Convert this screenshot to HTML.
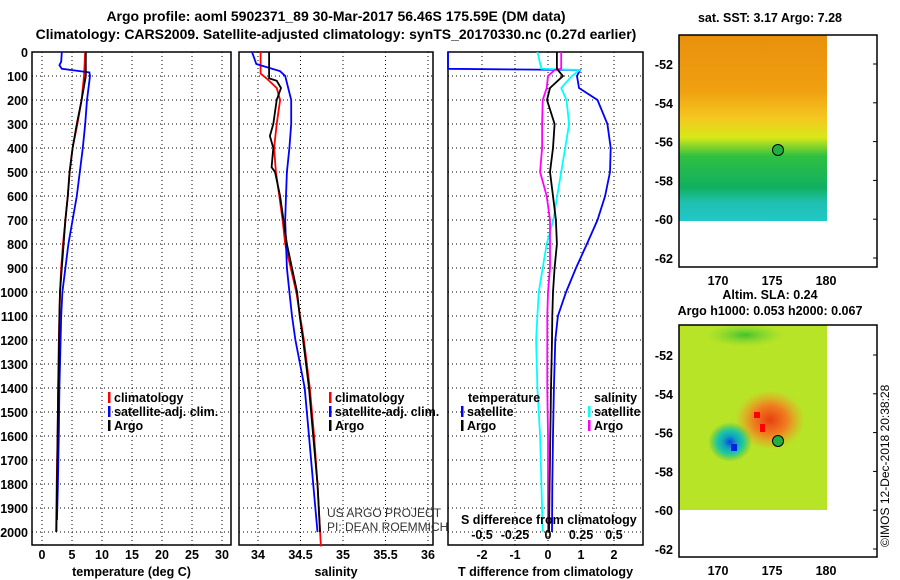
<!DOCTYPE html>
<html><head><meta charset="utf-8"><style>
body{margin:0;background:#fff;width:900px;height:580px;overflow:hidden}
svg{font-family:"Liberation Sans",sans-serif;display:block}
.b{font-weight:bold;font-size:12.5px}
.t{font-weight:bold;font-size:14px}
</style></head><body>
<svg id="chart" width="900" height="580" viewBox="0 0 900 580">
<defs>
<linearGradient id="sstg" x1="0" y1="0" x2="0" y2="1">
<stop offset="0" stop-color="#e8900c"/><stop offset="0.3" stop-color="#f0a010"/>
<stop offset="0.45" stop-color="#f4c820"/><stop offset="0.55" stop-color="#d8e818"/>
<stop offset="0.65" stop-color="#30c040"/><stop offset="0.82" stop-color="#10b060"/>
<stop offset="0.9" stop-color="#20c0b0"/><stop offset="1" stop-color="#20c8c8"/>
</linearGradient>
<radialGradient id="warm"><stop offset="0" stop-color="#e84010"/><stop offset="0.5" stop-color="#f08020"/><stop offset="1" stop-color="#f0a020" stop-opacity="0"/></radialGradient>
<radialGradient id="cold"><stop offset="0" stop-color="#1040e0"/><stop offset="0.3" stop-color="#10a0c0"/><stop offset="0.6" stop-color="#20c8a0"/><stop offset="1" stop-color="#40c040" stop-opacity="0"/></radialGradient>
<radialGradient id="grn"><stop offset="0" stop-color="#40c030"/><stop offset="1" stop-color="#80d830" stop-opacity="0"/></radialGradient>
<clipPath id="slaclip"><rect x="679" y="325" width="148" height="185"/></clipPath>
</defs>
<text x="336" y="21" text-anchor="middle" class="t">Argo profile: aoml 5902371_89 30-Mar-2017 56.46S 175.59E (DM data)</text>
<text x="336" y="39" text-anchor="middle" class="t">Climatology: CARS2009. Satellite-adjusted climatology: synTS_20170330.nc (0.27d earlier)</text>
<text x="770" y="22" text-anchor="middle" class="b">sat. SST: 3.17 Argo: 7.28</text>
<text x="770" y="299" text-anchor="middle" class="b">Altim. SLA: 0.24</text>
<text x="770" y="315" text-anchor="middle" class="b">Argo h1000: 0.053 h2000: 0.067</text>
<text transform="translate(889,547) rotate(-90)" font-size="12">©IMOS 12-Dec-2018 20:38:28</text>
<g id="panels"></g>
<g id="maps">
<g>
<rect x="679" y="35" width="148" height="186" fill="url(#sstg)"/>
<rect x="679" y="35" width="198" height="232" fill="none" stroke="#000" stroke-width="1.5"/>
<circle cx="778" cy="150" r="5.5" fill="#20b040" stroke="#000"/>
</g>
<g>
<g clip-path="url(#slaclip)">
<rect x="679" y="325" width="148" height="185" fill="#b8e428"/>
<ellipse cx="745" cy="335" rx="40" ry="12" fill="url(#grn)"/>
<ellipse cx="770" cy="420" rx="35" ry="30" fill="url(#warm)"/>
<ellipse cx="730" cy="442" rx="22" ry="20" fill="url(#cold)"/>
<rect x="754" y="412" width="6" height="6" fill="#f00"/><rect x="760" y="424" width="5" height="8" fill="#f00"/>
<rect x="731" y="444" width="6" height="7" fill="#0020e0"/>
</g>
<rect x="679" y="325" width="198" height="232" fill="none" stroke="#000" stroke-width="1.5"/>
<circle cx="778" cy="441" r="5.5" fill="#20b040" stroke="#000"/>
</g>
</g>
</svg>
<script>
// ---------- data ----------
const depthTemp = [0,50,100,200,300,400,500,600,700,800,900,1000,1100,1200,1400,1600,1800,2000];
const tempArgo  = [7.3,7.3,7.3,6.6,5.8,5.1,4.6,4.3,3.9,3.6,3.3,3.0,2.9,2.85,2.7,2.6,2.5,2.4];
const tempClim  = [7.2,7.1,7.0,6.6,5.9,5.1,4.6,4.3,3.9,3.5,3.2,3.0,2.9,2.8,2.7,2.6,2.45,2.35];
const depthTSat = [0,40,55,70,85,100,200,300,400,500,600,700,800,900,1000,1100,1200,1400,1600,1800,1950];
const tempSat   = [3.3,3.2,2.9,3.3,7.9,8.0,7.5,7.2,6.8,6.3,5.8,5.1,4.4,3.9,3.4,3.2,3.1,2.9,2.8,2.65,2.5];

const depthSal = [0,110,120,150,200,300,350,400,480,500,600,700,800,900,1000,1100,1200,1400,1600,1800,2000];
const salArgo  = [34.13,34.13,34.22,34.27,34.22,34.18,34.14,34.18,34.16,34.2,34.26,34.3,34.34,34.4,34.46,34.49,34.53,34.6,34.65,34.7,34.73];
const depthSClim = [0,90,110,150,200,300,400,500,600,700,800,1000,1200,1400,1600,1800,2060];
const salClim  = [34.03,34.03,34.1,34.22,34.26,34.22,34.19,34.21,34.25,34.29,34.32,34.45,34.54,34.61,34.66,34.7,34.74];
const depthSSat = [0,50,80,100,200,300,400,500,600,700,800,900,1000,1100,1200,1400,1600,1800,2000];
const salSat   = [33.93,33.98,34.26,34.32,34.39,34.39,34.37,34.34,34.33,34.32,34.33,34.34,34.37,34.4,34.44,34.55,34.6,34.65,34.7];

const depthDiff = [0,70,75,100,150,200,300,400,500,600,700,800,900,1000,1100,1200,1400,1600,1800,2000];
const dTSat  = [-4.1,-4.1,0.97,0.88,0.94,1.5,1.8,1.9,1.88,1.73,1.5,1.18,0.85,0.55,0.3,0.22,0.18,0.15,0.13,0.12];
const dTArgo = [0.27,0.27,0.3,0.45,0.06,-0.03,0.2,0.15,0.06,0.15,0.24,0.27,0.2,0.15,0.13,0.12,0.09,0.07,0.05,0.03];
const dSArgo = [0.1,0.1,0.05,0,-0.01,-0.04,-0.045,-0.045,-0.06,-0.01,0.015,0.015,0.015,0,-0.005,-0.005,-0.005,0,0,0];
const dSSat  = [-0.08,-0.05,0.24,0.18,0.1,0.14,0.16,0.13,0.1,0.07,0.04,-0.01,-0.04,-0.07,-0.08,-0.09,-0.08,-0.06,-0.05,-0.04];

const depthTicks = [0,100,200,300,400,500,600,700,800,900,1000,1100,1200,1300,1400,1500,1600,1700,1800,1900,2000];
const tempTicks = [0,5,10,15,20,25,30];
const salTicks = [34,34.5,35,35.5,36];
const salTickLabels = ["34","34.5","35","35.5","36"];
const dTTicks = [-2,-1,0,1,2];
const dSTicks = [-0.5,-0.25,0,0.25,0.5];
const latTicks = [-52,-54,-56,-58,-60,-62];
const lonTicks = [170,175,180];

// ---------- helpers ----------
const NS="http://www.w3.org/2000/svg";
const root=document.getElementById('panels');
function mk(tag,attrs,parent){const e=document.createElementNS(NS,tag);for(const k in attrs)e.setAttribute(k,attrs[k]);(parent||root).appendChild(e);return e;}
const TOP=52, BOT=545;
const yD=d=>TOP+d*0.24;
const xT=v=>42+v*6;
const xS=v=>258+(v-34)*85;
const xDT=v=>Math.max(448,548+v*33);
const xDS=v=>548+v*132;

function panel(name,x0,x1,xs,ticks,labels,title){
  const g=mk('g',{});
  
  
  depthTicks.forEach(d=>{const l=mk('line',{x1:x0,x2:x1,y1:yD(d),y2:yD(d),stroke:'#000','stroke-dasharray':'1,3','stroke-width':1},g);
    });
  ticks.forEach((t,i)=>{const x=xs(t);
    const l=mk('line',{x1:x,x2:x,y1:TOP,y2:BOT,stroke:'#000','stroke-dasharray':'1,3'},g);
    
    const tx=mk('text',{x:x,y:559,'text-anchor':'middle',class:'b'},g);tx.textContent=labels[i];
    });
  const r=mk('rect',{x:x0,y:TOP,width:x1-x0,height:BOT-TOP,fill:'none',stroke:'#000','stroke-width':1.5},g);
  
  const tt=mk('text',{x:(x0+x1)/2,y:576,'text-anchor':'middle',class:'b'},g);tt.textContent=title;
  
  return g;
}
function line(g,name,xs,depths,vals,color,w){
  const pts=depths.map((d,i)=>xs(vals[i]).toFixed(1)+','+yD(d).toFixed(1)).join(' ');
  const p=mk('polyline',{points:pts,fill:'none',stroke:color,'stroke-width':w||1.8},g);
  
  
}
function legend(g,x,y,color,label,name){
  mk('rect',{x:x,y:y-10,width:2.5,height:11,fill:color},g);
  const t=mk('text',{x:x+6,y:y,class:'b'},g);t.textContent=label;
  
}

depthTicks.forEach(d=>{const t=mk('text',{x:28,y:yD(d)+5,'text-anchor':'end',class:'b'});t.textContent=d;
  });

const g1=panel('temperature-panel',32,231,xT,tempTicks,tempTicks.map(String),'temperature (deg C)');
line(g1,'temp-climatology-line',xT,depthTemp,tempClim,'#f00');
line(g1,'temp-satellite-line',xT,depthTSat,tempSat,'#00f');
line(g1,'temp-argo-line',xT,depthTemp,tempArgo,'#000');
legend(g1,108,402,'#f00','climatology','legend-climatology');
legend(g1,108,416,'#00f','satellite-adj. clim.','legend-satellite');
legend(g1,108,430,'#000','Argo','legend-argo');

const g2=panel('salinity-panel',239,433,xS,salTicks,salTickLabels,'salinity');
line(g2,'sal-climatology-line',xS,depthSClim,salClim,'#f00');
line(g2,'sal-satellite-line',xS,depthSSat,salSat,'#00f');
line(g2,'sal-argo-line',xS,depthSal,salArgo,'#000');
legend(g2,329,402,'#f00','climatology','legend-climatology');
legend(g2,329,416,'#00f','satellite-adj. clim.','legend-satellite');
legend(g2,329,430,'#000','Argo','legend-argo');
[['US ARGO PROJECT',517],['PI: DEAN ROEMMICH',531]].forEach(a=>{const t=mk('text',{x:327,y:a[1],'font-size':12,fill:'#333'},g2);t.textContent=a[0];
  });

const g3=panel('difference-panel',448,643,xDT,dTTicks,dTTicks.map(String),'T difference from climatology');
line(g3,'t-diff-satellite-line',xDT,depthDiff,dTSat,'#00f');
line(g3,'s-diff-satellite-line',xDS,depthDiff,dSSat,'#0ff');
line(g3,'s-diff-argo-line',xDS,depthDiff,dSArgo,'#f0f');
line(g3,'t-diff-argo-line',xDT,depthDiff,dTArgo,'#000');
{const t=mk('text',{x:468,y:402,class:'b'},g3);t.textContent='temperature';}
{const t=mk('text',{x:594,y:402,class:'b'},g3);t.textContent='salinity';}
legend(g3,461,416,'#00f','satellite','legend-t-satellite');
legend(g3,461,430,'#000','Argo','legend-t-argo');
legend(g3,588,416,'#0ff','satellite','legend-s-satellite');
legend(g3,588,430,'#f0f','Argo','legend-s-argo');
{const t=mk('text',{x:461,y:524,class:'b'},g3);t.textContent='S difference from climatology';}
dSTicks.forEach(s=>{const t=mk('text',{x:xDS(s/4*4*0.25*4),y:539,'text-anchor':'middle',class:'b'},g3);t.textContent=String(s);
  });

const maps=document.getElementById('maps');
function mapAxes(latY0,lonY){
  latTicks.forEach(l=>{const y=latY0+(-52-l)*19.4;
    const t=mk('text',{x:673,y:y+5,'text-anchor':'end',class:'b'},maps);t.textContent=l;
    
    mk('line',{x1:873,x2:877,y1:y,y2:y,stroke:'#000'},maps);});
  lonTicks.forEach(l=>{const x=718+(l-170)*10.8;
    const t=mk('text',{x:x,y:lonY,'text-anchor':'middle',class:'b'},maps);t.textContent=l;
    });
}
mapAxes(64,285);
mapAxes(355,575);
</script>
</body></html>
